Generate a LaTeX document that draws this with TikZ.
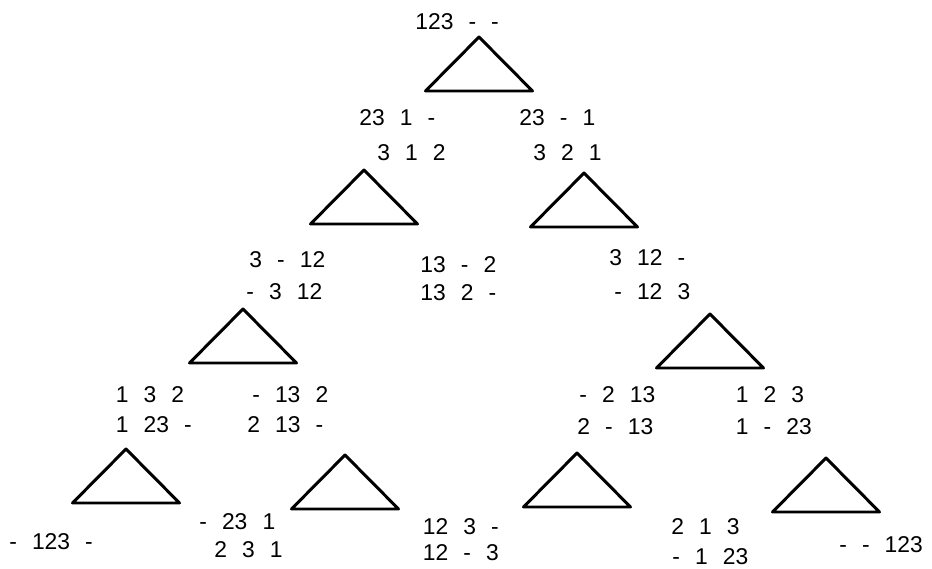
\documentclass[tikz,border=0pt]{standalone}
\usepackage{fontspec}
\setmainfont{Liberation Sans}

\newcommand{\gp}{\hspace{0.66em}}

\begin{document}
\begin{tikzpicture}[font=\fontsize{13}{15}\selectfont]
\tikzstyle{tri}=[line width=1.7pt,line join=round]
\tikzstyle{st}=[inner sep=0pt,anchor=west]
\useasboundingbox (0,0) rectangle (18.64,11.36);
% moves
\foreach \x/\y in {9.58/10.62,7.28/7.96,11.68/7.90,4.86/5.18,14.20/5.08,2.52/2.38,6.90/2.26,11.54/2.30,16.52/2.20}
  \draw[tri] (\x,\y) -- ++(-1.07,-1.08) -- ++(2.14,0) -- cycle;
% states
\node[st] (s0) at (8.30,10.92) {123\gp-\gp-};
\node[st] (b1) at (7.18,9.00) {23\gp1\gp-};
\node[st] (b2) at (7.54,8.30) {3\gp1\gp2};
\node[st] (c1) at (10.38,9.00) {23\gp-\gp1};
\node[st] (c2) at (10.66,8.30) {3\gp2\gp1};
\node[st] (d1) at (4.98,6.16) {3\gp-\gp12};
\node[st] (d2) at (4.92,5.52) {-\gp3\gp12};
\node[st] (e1) at (8.40,6.06) {13\gp-\gp2};
\node[st] (e2) at (8.40,5.50) {13\gp2\gp-};
\node[st] (f1) at (12.18,6.20) {3\gp12\gp-};
\node[st] (f2) at (12.28,5.52) {-\gp12\gp3};
\node[st] (g1) at (2.31,3.46) {1\gp3\gp2};
\node[st] (g2) at (2.31,2.86) {1\gp23\gp-};
\node[st] (h1) at (5.04,3.46) {-\gp13\gp2};
\node[st] (h2) at (4.94,2.86) {2\gp13\gp-};
\node[st] (i0) at (0.18,0.52) {-\gp123\gp-};
\node[st] (j1) at (3.98,0.92) {-\gp23\gp1};
\node[st] (j2) at (4.28,0.36) {2\gp3\gp1};
\node[st] (k1) at (8.45,0.82) {12\gp3\gp-};
\node[st] (k2) at (8.45,0.30) {12\gp-\gp3};
\node[st] (l1) at (11.58,3.46) {-\gp2\gp13};
\node[st] (l2) at (11.54,2.82) {2\gp-\gp13};
\node[st] (m1) at (14.71,3.46) {1\gp2\gp3};
\node[st] (m2) at (14.71,2.82) {1\gp-\gp23};
\node[st] (n1) at (13.42,0.82) {2\gp1\gp3};
\node[st] (n2) at (13.44,0.23) {-\gp1\gp23};
\node[st] (o0) at (16.78,0.46) {-\gp-\gp123};
\end{tikzpicture}
\end{document}
